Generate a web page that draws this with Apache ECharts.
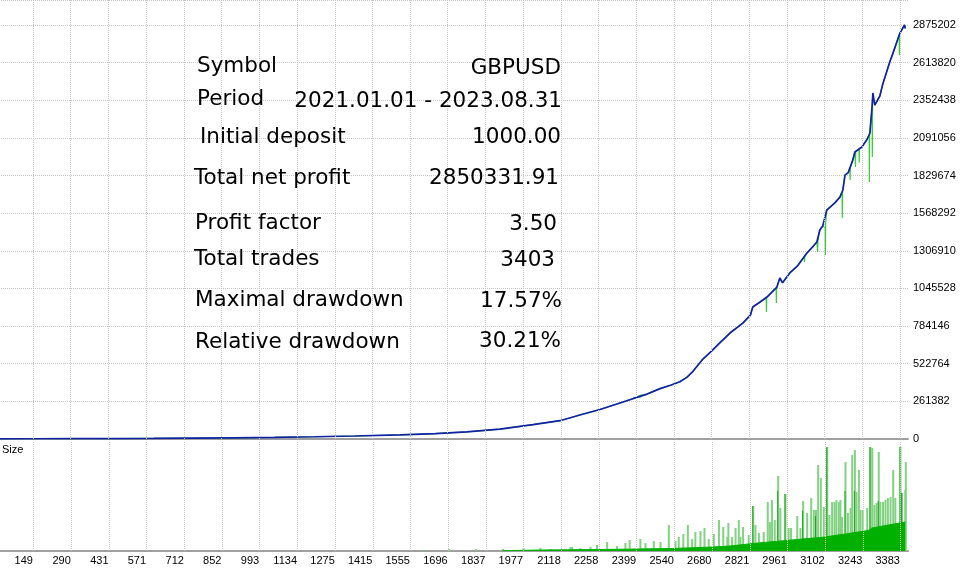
<!DOCTYPE html>
<html>
<head>
<meta charset="utf-8">
<script src="https://cdn.jsdelivr.net/npm/echarts@6/dist/echarts.min.js"></script>
<style>
  html, body { margin: 0; padding: 0; background: #fff; }
  #chart { width: 960px; height: 570px; }
</style>
</head>
<body>
<div id="chart"></div>
<script>
// trade number labels on the bottom axis
const xTickLabels = [0, 149, 290, 431, 571, 712, 852, 993, 1134, 1275, 1415, 1555, 1696,
  1837, 1977, 2118, 2258, 2399, 2540, 2680, 2821, 2961, 3102, 3243, 3383];
// balance labels on the right axis
const yTickLabels = [0, 261382, 522764, 784146, 1045528, 1306910, 1568292, 1829674,
  2091056, 2352438, 2613820, 2875202];

// balance curve, [trade, balance]
const balance = [
  [0, 1000], [150, 1600], [300, 2300], [450, 3200], [600, 4300], [750, 6000], [900, 8000],
  [1050, 11000], [1200, 15500], [1350, 21000], [1518, 28000], [1650, 38000], [1767, 50000],
  [1891, 68000], [2014, 100000], [2115, 127000], [2189, 167000], [2264, 205000], [2330, 245000],
  [2387, 280000], [2440, 312000], [2488, 350000], [2530, 375000], [2562, 398000], [2588, 428000],
  [2611, 470000], [2648, 555000], [2680, 610000], [2711, 667000], [2749, 736000], [2797, 805000],
  [2825, 860000], [2834, 917000], [2860, 950000], [2887, 986000], [2924, 1055000], [2935, 1118000],
  [2945, 1085000], [2972, 1153000], [3000, 1200000], [3036, 1292000], [3060, 1340000],
  [3073, 1368000], [3084, 1451000], [3095, 1480000], [3110, 1590000], [3140, 1640000],
  [3159, 1680000], [3170, 1729000], [3178, 1833000], [3190, 1850000], [3207, 1937000],
  [3215, 1993000], [3241, 2028000], [3260, 2080000], [3271, 2125000], [3278, 2285000],
  [3282, 2403000], [3289, 2319000], [3308, 2382000], [3319, 2465000], [3345, 2618000],
  [3357, 2680000], [3383, 2819000], [3400, 2875202], [3403, 2851332]
];
// equity drawdowns between trades, [trade, equity]
const equityDips = [
  [2412, 302000], [2413, 285000], [2414, 303000],
  [2884, 980000], [2885, 882000], [2886, 984000],
  [2921, 1050000], [2922, 944000], [2923, 1053000],
  [3026, 1265000], [3027, 1230000], [3028, 1268000],
  [3075, 1372000], [3076, 1299000], [3077, 1376000],
  [3104, 1470000], [3105, 1278000], [3106, 1505000],
  [3167, 1712000], [3168, 1535000], [3169, 1720000],
  [3196, 1880000], [3197, 1798000], [3198, 1885000],
  [3216, 1995000], [3217, 1889000], [3218, 1998000],
  [3230, 2015000], [3231, 1920000], [3232, 2018000],
  [3268, 2115000], [3269, 1785000], [3270, 2120000],
  [3279, 2300000], [3280, 1958000], [3281, 2390000],
  [3380, 2808000], [3381, 2667000], [3382, 2815000]
];

// lot size: the steadily growing base and the single larger trades
const lotBase = [
  [1900, 0.3], [2040, 1], [2264, 1.5], [2400, 2], [2536, 2.5], [2685, 4], [2749, 5],
  [2853, 8], [2980, 11], [3103, 14], [3252, 20], [3270, 21], [3278, 23], [3340, 26], [3403, 29]
];
const lotSpikes = [
  [1600, 1], [1700, 2], [1800, 2], [1900, 2], [1977, 3], [2040, 3], [2078, 2], [2152, 4],
  [2158, 4], [2189, 3], [2227, 4], [2251, 6], [2289, 9], [2326, 5], [2357, 8], [2373, 11],
  [2413, 12], [2432, 8], [2463, 10], [2488, 9], [2519, 26], [2544, 10], [2556, 14], [2573, 17],
  [2590, 26], [2606, 12], [2618, 19], [2637, 20], [2652, 23], [2668, 12], [2687, 17], [2706, 31],
  [2722, 24], [2737, 14], [2741, 28], [2755, 14], [2768, 23], [2780, 31], [2786, 14], [2796, 24],
  [2817, 16], [2834, 45], [2842, 26], [2855, 18], [2873, 19], [2888, 49], [2896, 29], [2904, 51],
  [2914, 31], [2927, 75], [2935, 43], [2954, 57], [2966, 23], [2975, 23], [2998, 35], [3010, 23],
  [3020, 50], [3035, 38], [3050, 53], [3060, 41], [3068, 41], [3076, 86], [3086, 73], [3097, 44],
  [3110, 104], [3118, 36], [3128, 49], [3137, 49], [3144, 51], [3153, 49], [3159, 51], [3165, 34],
  [3178, 89], [3187, 38], [3197, 43], [3203, 96], [3213, 101], [3219, 59], [3228, 81], [3234, 41],
  [3242, 41], [3259, 43], [3271, 104], [3278, 103], [3286, 46], [3294, 48], [3302, 99], [3308, 49],
  [3318, 49], [3327, 51], [3336, 53], [3346, 54], [3356, 81], [3364, 53], [3383, 104], [3389, 58],
  [3401, 61], [3403, 89]
];
// darker single-trade lines inside the spikes
const lotDark = [
  [2834, 45], [2927, 60], [2954, 57], [3020, 40], [3068, 35], [3110, 104], [3178, 60],
  [3213, 60], [3271, 104], [3302, 50], [3383, 104], [3389, 58]
];

// report block
const statNames = ['Symbol', 'Period', 'Initial deposit', 'Total net profit',
  'Profit factor', 'Total trades', 'Maximal drawdown', 'Relative drawdown'];
const statValues = ['GBPUSD', '2021.01.01 - 2023.08.31', '1000.00', '2850331.91',
  '3.50', '3403', '17.57%', '30.21%'];

const chart = echarts.init(document.getElementById('chart'));

const equity = balance.concat(equityDips).sort((a, b) => a[0] - b[0]);

// [left x, middle y] of names, [right x, middle y] of values
const statPos = [
  [197, 66], [197, 99], [200, 137], [194, 178],
  [195, 223], [194, 259], [195, 300], [195, 342]
];
const valPos = [
  [561, 68], [562, 101], [561, 137], [559, 178],
  [557, 224], [555, 260], [562, 301], [561, 341]
];
const statFont = '21.5px "DejaVu Sans", Verdana, sans-serif';

let graphic = [];
statNames.forEach((name, i) => {
  graphic.push({
    type: 'text', left: statPos[i][0], top: statPos[i][1] - 11, silent: true, z: 10,
    style: { text: name, font: statFont, fill: '#000' }
  });
  graphic.push({
    type: 'text', right: 960 - valPos[i][0], top: valPos[i][1] - 11, silent: true, z: 10,
    style: { text: statValues[i], font: statFont, fill: '#000' }
  });
});
graphic.push({
  type: 'text', left: 2, top: 444, silent: true,
  style: { text: 'Size', font: '11px "Liberation Sans", Arial, sans-serif', fill: '#000' }
});

const gridDots = { type: 'dotted', color: '#c6c6c6', width: 1 };
const axisGray = { color: '#a0a0a0', width: 2 };
const vGrid = {
  silent: true,
  symbol: ['none', 'none'],
  label: { show: false },
  lineStyle: gridDots,
  emphasis: { disabled: true },
  data: xTickLabels.map(v => ({ xAxis: v }))
};

let options = {
  animation: false,
  backgroundColor: '#fff',
  graphic: graphic,
  grid: [
    { left: -7, right: 52, top: 0, height: 439, outerBoundsMode: 'none', containLabel: false },
    { left: -7, right: 52, top: 441, height: 110, outerBoundsMode: 'none', containLabel: false }
  ],
  xAxis: [
    {
      type: 'value', gridIndex: 0, min: 0, max: 3413,
      axisLine: { show: true, onZero: false, lineStyle: axisGray },
      axisTick: { show: false }, axisLabel: { show: false }, splitLine: { show: false }
    },
    {
      type: 'value', gridIndex: 1, min: 0, max: 3413,
      axisLine: { show: true, onZero: false, lineStyle: axisGray },
      axisTick: { show: false },
      axisLabel: {
        customValues: xTickLabels,
        align: 'right',
        margin: 4,
        color: '#000',
        fontSize: 11,
        fontFamily: 'Liberation Sans',
        hideOverlap: false,
        formatter: v => String(v)
      },
      splitLine: { show: false }
    }
  ],
  yAxis: [
    {
      type: 'value', gridIndex: 0, position: 'right', min: 0, max: 3048800, interval: 261382,
      axisLine: { show: true, lineStyle: axisGray },
      axisTick: { show: false },
      axisLabel: {
        customValues: yTickLabels,
        margin: 5,
        color: '#000',
        fontSize: 11,
        fontFamily: 'Liberation Sans',
        formatter: v => String(v)
      },
      splitLine: { show: true, lineStyle: gridDots }
    },
    {
      type: 'value', gridIndex: 1, position: 'right', min: 0, max: 110,
      axisLine: { show: true, lineStyle: axisGray },
      axisTick: { show: false }, axisLabel: { show: false }, splitLine: { show: false }
    }
  ],
  series: [
    {
      name: 'Equity',
      type: 'line',
      xAxisIndex: 0, yAxisIndex: 0,
      data: equity,
      showSymbol: false,
      z: 1,
      lineStyle: { color: '#3ccb3c', width: 1.2 },
      markLine: vGrid
    },
    {
      name: 'Balance',
      type: 'line',
      xAxisIndex: 0, yAxisIndex: 0,
      data: balance,
      showSymbol: false,
      z: 3,
      lineStyle: { color: '#1222a6', width: 1.7 }
    },
    {
      name: 'Size spikes',
      type: 'bar',
      xAxisIndex: 1, yAxisIndex: 1,
      data: lotSpikes,
      barWidth: 2,
      barGap: '-100%',
      z: 2,
      itemStyle: { color: '#82d282' },
      markLine: vGrid
    },
    {
      name: 'Size dark',
      type: 'bar',
      xAxisIndex: 1, yAxisIndex: 1,
      data: lotDark,
      barWidth: 1,
      barGap: '-100%',
      z: 2,
      itemStyle: { color: '#1ea41e' }
    },
    {
      name: 'Size',
      type: 'line',
      xAxisIndex: 1, yAxisIndex: 1,
      data: lotBase,
      showSymbol: false,
      z: 3,
      lineStyle: { color: '#00b000', width: 1 },
      areaStyle: { color: '#00b000', opacity: 1 }
    }
  ]
};

chart.setOption(options);
</script>
</body>
</html>
